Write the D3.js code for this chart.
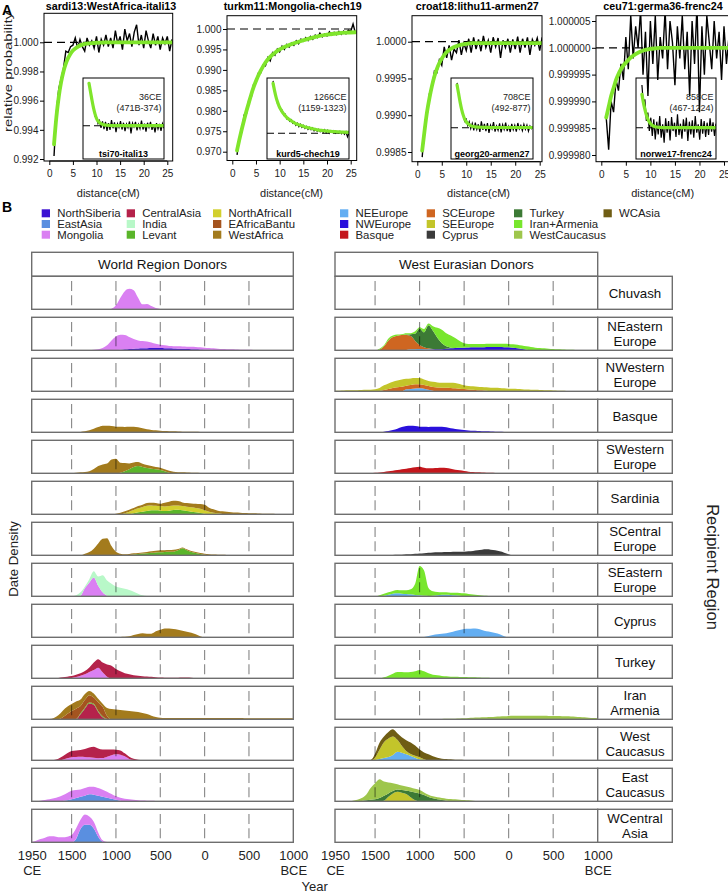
<!DOCTYPE html>
<html><head><meta charset="utf-8">
<script src="https://cdn.jsdelivr.net/npm/d3@7"></script>
<style>
html,body{margin:0;padding:0;background:#fff;}
svg{display:block;font-family:"Liberation Sans",Arial,Helvetica,sans-serif;}
</style></head><body>
<svg id="chart" width="728" height="893"></svg>
<script>
// ================= PANEL A DATA =================
const distCM = [1,1.5,2,2.5,3,3.5,4,4.5,5,5.5,6,6.5,7,7.5,8,8.5,9,9.5,10,10.5,11,11.5,12,12.5,13,13.5,14,14.5,15,15.5,16,16.5,17,17.5,18,18.5,19,19.5,20,20.5,21,21.5,22,22.5,23,23.5,24,24.5,25,25.5,26];
const fitCM = [1,1.5,2,2.5,3,3.5,4,4.5,5,6,7,8,9,10,11,12,13,14,16,18,20,22,24,26];

const obs1 = [0.9922,0.9952,0.9968,0.9975,0.9982,0.9994,0.9993,0.9997,0.9998,1.0003,0.9996,1.0002,0.9997,0.9994,1.0003,0.9998,1.0001,0.9996,1.0004,0.9993,1.0002,0.9998,1.0005,0.9997,1.0003,0.9996,1.0008,0.9999,1.0004,0.9995,1.0009,1.0001,1.0006,0.9997,1.0007,1.0012,0.9998,1.0005,0.9996,1.0008,1.0001,0.9996,1.0006,0.9998,1.0004,0.9995,1.0003,0.9999,1.0004,0.9994,1.0002];
const obs2 = [0.9692,0.9733,0.9748,0.9790,0.9793,0.9827,0.9832,0.9865,0.9868,0.9892,0.9893,0.9912,0.9910,0.9930,0.9922,0.9942,0.9936,0.9951,0.9944,0.9958,0.9950,0.9962,0.9956,0.9966,0.9960,0.9971,0.9964,0.9975,0.9970,0.9979,0.9972,0.9982,0.9975,0.9985,0.9979,0.9990,0.9981,0.9988,0.9983,0.9993,0.9985,0.9992,0.9986,0.9994,0.9987,0.9995,0.9988,0.9997,0.9994,1.0012,0.9990];
const obs3 = [0.99843,0.99885,0.99900,0.99930,0.99938,0.99960,0.99958,0.99975,0.99968,0.99993,0.99978,0.99995,0.99975,0.99990,0.99985,1.00002,0.99982,0.99998,0.99988,1.00004,0.99985,1.00006,0.99990,1.00003,0.99987,1.00008,0.99992,1.00002,0.99985,1.00006,0.99993,1.00005,0.99978,1.00002,0.99992,1.00004,0.99985,1.00003,0.99990,1.00007,0.99985,1.00004,0.99992,1.00006,0.99982,1.00003,0.99995,1.00005,0.99988,1.00006,0.99995];
const obs4 = [0.999987,0.999981,0.999990,0.999988,0.999994,0.999992,0.999997,0.999994,1.000002,0.999996,1.000006,0.999998,1.000004,1.000000,1.000007,0.999995,1.000003,0.999991,1.000005,0.999997,1.000006,0.999994,1.000002,0.999998,1.000007,0.999996,1.000005,1.000001,0.999993,1.000004,0.999998,1.000006,0.999996,1.000003,0.999991,1.000005,0.999997,1.000008,0.999988,1.000004,0.999995,1.000006,1.000001,0.999996,1.000005,0.999998,1.000003,0.999994,1.000004,0.999997,1.000002];

const fit1 = [0.99300,0.99488,0.99625,0.99726,0.99800,0.99854,0.99893,0.99922,0.99943,0.99969,0.99984,0.99991,0.99995,0.99997,0.99998,0.99999,1,1,1,1,1,1,1,1];
const fit2 = [0.9703,0.9730,0.9755,0.9778,0.9800,0.9820,0.9840,0.9858,0.9873,0.9898,0.9918,0.9932,0.9942,0.9950,0.9956,0.9961,0.9965,0.9969,0.9976,0.9982,0.9986,0.9989,0.9991,0.9992];
const fit3 = [0.99852,0.99880,0.99905,0.99924,0.99940,0.99953,0.99963,0.99971,0.99977,0.99986,0.99991,0.99994,0.99996,0.99997,0.99998,0.99998,0.99998,0.99998,0.99998,0.99998,0.99998,0.99998,0.99998,0.99998];
const fit4 = [0.999987,0.999989,0.999991,0.9999925,0.999994,0.9999951,0.999996,0.9999967,0.9999972,0.9999982,0.9999988,0.9999993,0.9999996,0.9999998,0.9999999,1,1,1,1,1,1,1,1,1];

const inObs1 = [1.02,0.78,0.55,0.45,0.22,0.20,0.05,0.12,-0.05,0.10,-0.08,0.09,-0.12,0.06,-0.10,0.13,-0.06,0.08,-0.15,0.05,-0.04,0.11,-0.09,0.07,-0.13,0.04,-0.05,0.10,-0.18,0.06,-0.03,0.09,-0.11,0.03,-0.07,0.12,-0.09,0.05,-0.14,0.07,-0.04,0.09,-0.10,0.03,-0.16,0.06,-0.08,0.04,-0.12,0.05,-0.06];
const inObs2 = [1.05,0.82,0.75,0.58,0.57,0.45,0.46,0.36,0.38,0.29,0.31,0.24,0.27,0.20,0.23,0.16,0.20,0.13,0.18,0.12,0.16,0.10,0.14,0.08,0.12,0.07,0.11,0.05,0.09,0.04,0.08,0.03,0.07,0.02,0.07,0.01,0.06,0.00,0.05,0.02,0.05,0.00,0.04,0.01,0.04,-0.01,0.03,-0.02,0.03,-0.07,0.01];
const inObs3 = [1.05,0.78,0.62,0.40,0.33,0.15,0.20,0.05,0.14,-0.02,0.10,-0.06,0.12,-0.04,0.08,-0.10,0.15,-0.05,0.09,-0.08,0.11,-0.12,0.06,-0.03,0.13,-0.09,0.04,-0.06,0.10,-0.11,0.07,-0.04,0.12,-0.08,0.03,-0.10,0.09,-0.05,0.06,-0.09,0.11,-0.03,0.05,-0.07,0.08,-0.04,0.06,-0.08,0.04,-0.02,0.03];
const inObs4 = [1.28,0.70,0.85,0.20,0.45,-0.10,0.30,-0.25,0.25,-0.35,0.18,-0.20,0.35,-0.30,0.10,-0.45,0.28,-0.15,0.20,-0.38,0.32,-0.10,0.15,-0.28,0.40,-0.22,0.12,-0.33,0.25,-0.12,0.30,-0.40,0.18,-0.20,0.22,-0.30,0.35,-0.15,0.10,-0.36,0.26,-0.18,0.20,-0.28,0.15,-0.22,0.28,-0.12,0.16,-0.25,0.12];

const inFit1 = [1,0.80,0.60,0.42,0.28,0.17,0.11,0.075,0.05,0.02,0.01,0.005,0,0,0,0,0,0,0,0,0,0,0,0];
const inFit2 = [1,0.85,0.72,0.62,0.54,0.48,0.43,0.39,0.35,0.29,0.25,0.21,0.18,0.16,0.14,0.12,0.105,0.09,0.065,0.05,0.038,0.03,0.023,0.02];
const inFit3 = [1,0.80,0.60,0.43,0.30,0.20,0.14,0.10,0.07,0.035,0.02,0.014,0.01,0.008,0.006,0.005,0.005,0.005,0.005,0.005,0.005,0.005,0.005,0.005];
const inFit4 = [1,0.75,0.55,0.38,0.26,0.17,0.11,0.07,0.045,0.02,0.01,0.005,0,0,0,0,0,0,0,0,0,0,0,0];

const titlesA = ["sardi13:WestAfrica-itali13","turkm11:Mongolia-chech19","croat18:lithu11-armen27","ceu71:germa36-frenc24"];
const insetPairs = ["tsi70-itali13","kurd5-chech19","georg20-armen27","norwe17-frenc24"];
const insetDates = ["36CE","1266CE","708CE","858CE"];
const insetCIs = ["(471B-374)","(1159-1323)","(492-877)","(467-1224)"];
const yTicks1 = [0.992,0.994,0.996,0.998,1.000];
const yTicks2 = [0.970,0.975,0.980,0.985,0.990,0.995,1.000];
const yTicks3 = [0.9985,0.9990,0.9995,1.0000];
const yTicks4 = [0.999980,0.999985,0.999990,0.999995,1.000000,1.000005];
const xTicksA = [0,5,10,15,20,25];

// ================= PANEL B DATA =================
const yearStep = 50;
const worldDonors = ["NorthSiberia","EastAsia","Mongolia","CentralAsia","India","Levant","NorthAfricaII","EAfricaBantu","WestAfrica"];
const worldColors = ["#3c12d2","#5a8fe0","#da80f2","#b5224b","#b8f8c8","#5ab52a","#d2d02e","#a4541f","#a37b1d"];
const westDonors = ["NEEurope","NWEurope","Basque","SCEurope","SEEurope","Cyprus","Turkey","Iran+Armenia","WestCaucasus","WCAsia"];
const westColors = ["#63aef2","#2a10dc","#c4161c","#cf6621","#c3c52a","#3b3b3b","#3c7a35","#78e62d","#9ec64c","#6f5d14"];
const recipients = [["Chuvash"],["NEastern","Europe"],["NWestern","Europe"],["Basque"],["SWestern","Europe"],["Sardinia"],["SCentral","Europe"],["SEastern","Europe"],["Cyprus"],["Turkey"],["Iran","Armenia"],["West","Caucasus"],["East","Caucasus"],["WCentral","Asia"]];
const yearTicks = [1950,1500,1000,500,0,-500,-1000];
const yearGuides = [1500,1000,500,0,-500];

// series: [donor, first year, density values every 50 years going back in time]
const wChuvash = [["Mongolia",1100,[0,.02,.12,.35,.55,.62,.58,.35,.15,.16,.10,.04,.01,0]]];
const wNEastern = [
 ["NorthSiberia",1050,[0,.01,.02,.03,.04,.05,.055,.06,.065,.07,.07,.07,.065,.06,.055,.05,.045,.04,.035,.03,.025,.02,.015,.01,.005,0]],
 ["Mongolia",1550,[0,.005,.006,.008,.01,.01,.02,.03,.07,.15,.30,.41,.45,.43,.36,.29,.245,.22,.205,.17,.13,.10,.085,.07,.07,.07,.07,.07,.07,.07,.065,.06,.055,.05,.045,.04,.035,.03,.025,.02,.018,.015,.012,.01,.01,.01,.01,.01,.008,.006,.004,.002]]];
const wNWestern = [];
const wBasque = [["WestAfrica",1450,[0,.01,.03,.06,.11,.16,.20,.20,.19,.17,.165,.16,.165,.17,.15,.12,.09,.07,.06,.05,.04,.035,.03,.025,.02,.02,.02,.015,.01,.01,0]]];
const wSWestern = [
 ["Levant",1000,[0,.02,.06,.12,.19,.22,.19,.16,.14,.12,.10,.06,.02,0]],
 ["WestAfrica",1500,[.01,.02,.03,.04,.06,.13,.22,.27,.30,.42,.44,.30,.25,.18,.14,.12,.10,.09,.08,.07,.07,.06,.06,.05,.035,.03,.025,.02,.015,.01,0]]];
const wSardinia = [
 ["Levant",850,[0,.03,.06,.08,.10,.12,.12,.11,.10,.11,.13,.14,.12,.10,.08,.06,.04,.02,0]],
 ["NorthAfricaII",950,[0,.03,.08,.10,.12,.14,.16,.15,.14,.14,.14,.14,.14,.13,.13,.13,.13,.13,.13,.10,.08,.05,.03,.01,0]],
 ["WestAfrica",1050,[0,.02,.05,.06,.06,.06,.07,.07,.08,.08,.08,.07,.11,.13,.14,.13,.11,.11,.12,.13,.14,.17,.12,.10,.08,.08,.075,.065,.055,.048,.04,.035,.03,.025,.02,.017,.013,.01,.007,.004,.002,0]]];
const wSCentral = [
 ["Levant",900,[0,.01,.025,.04,.055,.065,.075,.085,.09,.10,.105,.11,.15,.21,.15,.10,.07,.04,.015,0]],
 ["WestAfrica",1400,[0,.05,.10,.20,.36,.50,.52,.28,.11,.05,.03,.03,.035,.03,.03,.035,.045,.05,.06,.055,.055,.06,.04,.03,.03,.03,.03,.03,.035,.035,.025,.02,.015,.01,.005,0]]];
const wSEastern = [
 ["Mongolia",1450,[0,.02,.25,.42,.57,.32,.12,.02,0]],
 ["India",1500,[0,.03,.10,.05,.10,.19,.28,.52,.46,.38,.30,.26,.23,.19,.14,.08,.03,.01,0]]];
const wCyprus = [["WestAfrica",1050,[0,.005,.01,.015,.03,.07,.10,.12,.11,.11,.18,.23,.27,.27,.25,.23,.20,.17,.14,.09,.03,0]]];
const wTurkey = [
 ["Mongolia",1550,[0,.01,.04,.08,.12,.19,.25,.32,.18,.05,0]],
 ["CentralAsia",1700,[0,.01,.03,.05,.06,.07,.07,.10,.14,.23,.26,.30,.37,.38,.28,.21,.15,.12,.09,.075,.065,.055,.045,.035,.025,.02,.015,.015,.02,.025,.025,.02,.01,0]]];
const wIranArmenia = [
 ["CentralAsia",1450,[0,.15,.33,.48,.44,.22,.06,0]],
 ["Levant",1450,[.005,.03,.03,.03,.03,.03,.03,.01,0]],
 ["EAfricaBantu",1650,[0,.06,.16,.25,.315,.22,.23,.22,.19,.27,.29,.09,0]],
 ["WestAfrica",1800,[0,.01,.04,.12,.20,.22,.21,.22,.20,.18,.13,.12,.10,.09,.24,.31,.30,.285,.27,.25,.24,.22,.19,.16,.11,.07,.05,.04,.04,.04,.04,.04,.04,.04,.04,.04,.04,.04,.04,.04,.04,.04,.04,.04,.04,.035,.035,.035,.035,.03,.03,.03,.03,.03,.03,.03,.03]]];
const wWestCaucasus = [
 ["Mongolia",1650,[0,.02,.06,.09,.10,.11,.10,.09,.08,.065,.07,.11,.15,.18,.17,.12,.04,.01,0]],
 ["CentralAsia",1750,[0,.01,.05,.10,.15,.19,.20,.20,.24,.30,.33,.295,.26,.22,.18,.14,.13,.09,.07,.04,.02,.005,0]]];
const wEastCaucasus = [
 ["EastAsia",1650,[0,.01,.03,.06,.10,.14,.17,.21,.20,.17,.14,.11,.08,.05,.02,0]],
 ["Mongolia",1950,[.005,.01,.02,.04,.06,.09,.13,.17,.22,.26,.24,.22,.23,.23,.24,.23,.21,.18,.14,.10,.09,.08,.06,.045,.035,.025,.02,.015,.01,.005,0]]];
const wWCentral = [
 ["EastAsia",1500,[0,.10,.40,.53,.53,.42,.17,.02,0]],
 ["Mongolia",1950,[.01,.05,.10,.14,.18,.18,.15,.15,.17,.22,.32,.28,.31,.25,.20,.13,.04,.01,.005,.005,.005,.005,.006,.008,.008,.008,.008,.008,.008,.008,.008,.008,.008,.008,.008,.008,.008,.008,.008,.008,.005,.005,.003,.002,0]]];

const eChuvash = [];
const eNEastern = [
 ["NEEurope",1150,[.01,.03,.035,.04,.035,.03,.02,.01,0]],
 ["NWEurope",900,[0,.01,.02,.035,.05,.06,.07,.075,.08,.085,.09,.09,.09,.10,.10,.10,.10,.095,.09,.075,.06,.04,.02,.01,0]],
 ["SCEurope",1450,[.02,.12,.30,.40,.44,.46,.45,.40,.25,.12,.06,.03,.01,0]],
 ["Turkey",1200,[0,.02,.06,.22,.50,.45,.70,.55,.35,.18,.07,.02,0]],
 ["Iran+Armenia",1500,[0,.03,.03,.06,.05,.04,.03,.04,.03,.07,.04,.10,.05,.14,.30,.41,.40,.37,.30,.205,.13,.105,.10,.10,.10,.10,.10,.10,.10,.10,.10,.105,.11,.105,.10,.09,.08,.07,.06,.05,.04,.03,.025,.02,.015,.012,.01,.008,.005,.003,0]]];
const eNWestern = [
 ["NEEurope",1200,[0,.06,.07,.085,.09,.08,.05,.02,0]],
 ["SCEurope",1450,[.01,.04,.07,.10,.12,.14,.11,.12,.125,.12,.11,.11,.11,.115,.11,.105,.10,.09,.08,.07,.055,.045,.035,.03,.02,.01,0]],
 ["SEEurope",1950,[.02,.02,.025,.03,.03,.035,.04,.045,.05,.06,.09,.14,.17,.19,.21,.22,.21,.20,.19,.19,.17,.15,.16,.155,.15,.155,.16,.16,.14,.11,.105,.105,.105,.10,.10,.10,.105,.10,.09,.08,.075,.07,.065,.055,.05,.045,.04,.035,.03,.025,.02,.015,.01,.005,0]]];
const eBasque = [["NWEurope",1450,[0,.02,.04,.07,.11,.16,.19,.20,.19,.17,.165,.16,.165,.17,.17,.15,.12,.10,.085,.07,.055,.045,.04,.035,.03,.025,.02,.015,.01,.005,0]]];
const eSWestern = [["Basque",1550,[0,.015,.025,.04,.06,.08,.10,.125,.14,.16,.18,.20,.17,.15,.155,.16,.165,.16,.14,.11,.09,.07,.05,.04,.03,.025,.02,.015,.01,.005,0]]];
const eSardinia = [];
const eSCentral = [["Cyprus",1400,[0,.005,.01,.015,.02,.03,.035,.045,.055,.065,.075,.085,.09,.095,.10,.10,.105,.105,.11,.12,.13,.15,.17,.18,.17,.15,.12,.08,.03,0]]];
const eSEastern = [
 ["NEEurope",1450,[0,.02,.05,.08,.09,.08,.07,.06,.04,.03,.015,.01,.02,.035,.05,.05,.04,.03,.02,.01,0]],
 ["Iran+Armenia",1500,[0,.03,.06,.07,.08,.10,.10,.11,.15,.34,.89,.765,.24,.13,.095,.07,.07,.07,.08,.08,.08,.07,.055,.04,.025,.015,.005,0]]];
const eCyprus = [["NEEurope",1000,[0,.01,.04,.07,.09,.11,.12,.15,.19,.22,.25,.26,.27,.26,.22,.18,.16,.13,.09,.03,0]]];
const eTurkey = [["Iran+Armenia",1450,[0,.03,.08,.14,.19,.19,.18,.19,.21,.25,.21,.15,.11,.09,.07,.06,.05,.045,.04,.04,.035,.03,.025,.02,.015,.01,.01,.005,0]]];
const eIranArmenia = [["WestCaucasus",900,[0,.005,.01,.012,.015,.018,.02,.025,.03,.038,.045,.052,.06,.065,.07,.078,.085,.092,.10,.105,.11,.11,.11,.11,.11,.108,.105,.102,.10,.098,.095,.09,.085,.078,.07,.06,.05,.042,.035]]];
const eWestCaucasus = [
 ["NEEurope",1500,[.01,.04,.07,.10,.16,.26,.23,.18,.13,.08,.03,.01,0]],
 ["SEEurope",1550,[0,.07,.28,.48,.56,.56,.36,.21,.10,.06,.06,.06,.02,0]],
 ["WCAsia",1600,[0,.01,.12,.21,.17,.20,.22,.20,.26,.33,.35,.31,.24,.21,.18,.12,.08,.05,.04,.03,.02,.015,.01,.005,0]]];
const eEastCaucasus = [
 ["SEEurope",1450,[0,.02,.14,.24,.29,.26,.22,.12,.03,0]],
 ["Turkey",1650,[.01,.03,.05,.06,.10,.15,.10,.07,.07,.08,.10,.18,.24,.24,.19,.13,.09,.06,.04,.02,.01,0]],
 ["WestCaucasus",1800,[0,.02,.05,.09,.17,.35,.49,.57,.43,.33,.24,.16,.14,.13,.12,.11,.10,.08,.07,.06,.06,.06,.06,.06,.06,.05,.04,.03,.02,.01,0]]];
const eWCentral = [];

const worldRows = [wChuvash,wNEastern,wNWestern,wBasque,wSWestern,wSardinia,wSCentral,wSEastern,wCyprus,wTurkey,wIranArmenia,wWestCaucasus,wEastCaucasus,wWCentral];
const westRows = [eChuvash,eNEastern,eNWestern,eBasque,eSWestern,eSardinia,eSCentral,eSEastern,eCyprus,eTurkey,eIranArmenia,eWestCaucasus,eEastCaucasus,eWCentral];

// ================= DRAWING =================
const svg = d3.select("#chart");
const defs = svg.append("defs");
const GREEN = "#7fe52b";

// ---- Panel A ----
const layoutA = [
 {box:[44,172.7,13.3,161], x0:49.3, x25:167.3, yA:[1.000,42.3], yB:[0.992,159], inset:[83,164,78,159], inBase:125.7, inUnit:42.4, tx:111, lx:108},
 {box:[227,356.7,15.7,160.5], x0:232.3, x25:350.7, yA:[1.000,29], yB:[0.970,151.7], inset:[267,349,78,159], inBase:133.3, inUnit:50, tx:292.7},
 {box:[412,542,15.7,161.7], x0:417.3, x25:539.7, yA:[1.0000,41.7], yB:[0.9985,152], inset:[451,533,78,159], inBase:127.7, inUnit:42.7, tx:477.3},
 {box:[596,731,15.7,161.7], x0:601.3, x25:724, yA:[1.000005,21], yB:[0.999980,155], inset:[636,716,78,159], inBase:127.7, inUnit:33.4, tx:663}
];
const plotsA = [
 {obs:obs1, fit:fit1, inObs:inObs1, inFit:inFit1, yTicks:yTicks1, dec:3},
 {obs:obs2, fit:fit2, inObs:inObs2, inFit:inFit2, yTicks:yTicks2, dec:3},
 {obs:obs3, fit:fit3, inObs:inObs3, inFit:inFit3, yTicks:yTicks3, dec:4},
 {obs:obs4, fit:fit4, inObs:inObs4, inFit:inFit4, yTicks:yTicks4, dec:6}
];

plotsA.forEach((p, i) => {
  const L = layoutA[i];
  const [bl, br, bt, bb] = L.box;
  const x = d3.scaleLinear().domain([0, 25]).range([L.x0, L.x25]);
  const y = d3.scaleLinear().domain([L.yB[0], L.yA[0]]).range([L.yB[1], L.yA[1]]);
  const g = svg.append("g");
  const cid = "clipA" + i;
  defs.append("clipPath").attr("id", cid).append("rect")
    .attr("x", bl).attr("y", bt).attr("width", br - bl).attr("height", bb - bt);
  const gc = g.append("g").attr("clip-path", `url(#${cid})`);
  gc.append("line").attr("x1", bl).attr("x2", br).attr("y1", y(1)).attr("y2", y(1))
    .attr("stroke", "#000").attr("stroke-width", 1.2).attr("stroke-dasharray", "8,5");
  gc.append("path").datum(distCM.map((d, j) => [d, p.obs[j]]))
    .attr("d", d3.line().x(d => x(d[0])).y(d => y(d[1])))
    .attr("fill", "none").attr("stroke", "#000").attr("stroke-width", 1.4);
  gc.append("path").datum(fitCM.map((d, j) => [d, p.fit[j]]))
    .attr("d", d3.line().x(d => x(d[0])).y(d => y(d[1])).curve(d3.curveMonotoneX))
    .attr("fill", "none").attr("stroke", GREEN).attr("stroke-width", 3.8).attr("stroke-linecap", "round");

  // inset
  const [il, ir, it, ib] = L.inset;
  const ix = d3.scaleLinear().domain([-1, 26]).range([il, ir]);
  const iy = d3.scaleLinear().domain([0, 1]).range([L.inBase, L.inBase - L.inUnit]);
  const icid = "clipI" + i;
  defs.append("clipPath").attr("id", icid).append("rect")
    .attr("x", il).attr("y", it).attr("width", ir - il).attr("height", ib - it);
  const gi = g.append("g").attr("clip-path", `url(#${icid})`);
  gi.append("line").attr("x1", il).attr("x2", ir).attr("y1", iy(0)).attr("y2", iy(0))
    .attr("stroke", "#000").attr("stroke-width", 1.1).attr("stroke-dasharray", "7,4");
  gi.append("path").datum(distCM.map((d, j) => [d, p.inObs[j]]))
    .attr("d", d3.line().x(d => ix(d[0])).y(d => iy(d[1])))
    .attr("fill", "none").attr("stroke", "#000").attr("stroke-width", 1.2);
  gi.append("path").datum(fitCM.map((d, j) => [d, p.inFit[j]]))
    .attr("d", d3.line().x(d => ix(d[0])).y(d => iy(d[1])).curve(d3.curveMonotoneX))
    .attr("fill", "none").attr("stroke", GREEN).attr("stroke-width", 3.2).attr("stroke-linecap", "round");
  g.append("rect").attr("x", il).attr("y", it).attr("width", ir - il).attr("height", ib - it)
    .attr("fill", "none").attr("stroke", "#000").attr("stroke-width", 1);
  g.append("text").attr("x", ir - 2.5).attr("y", 100).attr("text-anchor", "end")
    .attr("font-size", 9).attr("fill", "#222").text(insetDates[i]);
  g.append("text").attr("x", ir - 2.5).attr("y", 111).attr("text-anchor", "end")
    .attr("font-size", 9).attr("fill", "#222").text(insetCIs[i]);
  g.append("text").attr("x", (il + ir) / 2).attr("y", 157).attr("text-anchor", "middle")
    .attr("font-size", 9).attr("font-weight", "bold").text(insetPairs[i]);

  // main box
  g.append("rect").attr("x", bl).attr("y", bt).attr("width", br - bl).attr("height", bb - bt)
    .attr("fill", "none").attr("stroke", "#000").attr("stroke-width", 1);

  // axes
  const ay = g.append("g").attr("transform", `translate(${bl},0)`)
    .call(d3.axisLeft(y).tickValues(p.yTicks).tickSize(4).tickPadding(1.5).tickFormat(v => v.toFixed(p.dec)));
  ay.select(".domain").remove();
  ay.selectAll("text").attr("font-size", 10).attr("font-family", null).attr("fill", "#222");
  const ax = g.append("g").attr("transform", `translate(0,${bb})`)
    .call(d3.axisBottom(x).tickValues(xTicksA).tickSize(4).tickPadding(5));
  ax.select(".domain").attr("d", `M${x(0)},0H${x(25)}`);
  ax.selectAll("text").attr("font-size", 10).attr("font-family", null).attr("fill", "#222");
  ay.attr("font-family", null); ax.attr("font-family", null);

  g.append("text").attr("x", L.tx).attr("y", 10).attr("text-anchor", "middle")
    .attr("font-size", 10.7).attr("font-weight", "bold").text(titlesA[i]);
  g.append("text").attr("x", x(12.5)).attr("y", 197).attr("text-anchor", "middle")
    .attr("font-size", 11).attr("fill", "#222").text("distance(cM)");
});
svg.append("text").attr("transform", "translate(12,72) rotate(-90)").attr("text-anchor", "middle")
  .attr("font-size", 11).attr("fill", "#222").attr("textLength", 120).attr("lengthAdjust", "spacingAndGlyphs")
  .text("relative probability");
svg.append("text").attr("x", 2).attr("y", 15).attr("font-size", 14).attr("font-weight", "bold").text("A");

// ---- Panel B ----
svg.append("text").attr("x", 2).attr("y", 212).attr("font-size", 14).attr("font-weight", "bold").text("B");

function drawLegend(names, colors, swX) {
  const rowY = [213.3, 224, 234.7];
  names.forEach((n, k) => {
    const c = Math.floor(k / 3), r = k % 3;
    svg.append("rect").attr("x", swX[c]).attr("y", rowY[r] - 4).attr("width", 8.3).attr("height", 8)
      .attr("fill", colors[k]);
    svg.append("text").attr("x", swX[c] + 15.5).attr("y", rowY[r] + 4).attr("font-size", 11.4)
      .attr("fill", "#222").text(n);
  });
}
drawLegend(worldDonors, worldColors, [41.7, 126.7, 213]);
drawLegend(westDonors, westColors, [340, 426.7, 514, 603.5]);

const rowsTop = 276.3, rowPitch = 41, panelH = 33;
const stripTop = 252.3;
const xL = d3.scaleLinear().domain([1950, -1000]).range([31.7, 293.3]);
const xR = d3.scaleLinear().domain([1950, -1000]).range([335, 597.7]);
const labelX1 = 672.3;
const gridYears = d3.range(1950, -1001, -yearStep);
const BORDER = "#6e6e6e";

function strip(xs, label) {
  const [a, b] = xs.range();
  svg.append("rect").attr("x", a).attr("y", stripTop).attr("width", b - a).attr("height", rowsTop - stripTop)
    .attr("fill", "#fff").attr("stroke", BORDER).attr("stroke-width", 1.4);
  svg.append("text").attr("x", (a + b) / 2).attr("y", (stripTop + rowsTop) / 2 + 4.8).attr("text-anchor", "middle")
    .attr("font-size", 13.5).attr("fill", "#111").text(label);
}
strip(xL, "World Region Donors");
strip(xR, "West Eurasian Donors");

function drawRow(xs, series, donors, colors, top, id) {
  const [a, b] = xs.range();
  const g = svg.append("g");
  g.append("rect").attr("x", a).attr("y", top).attr("width", b - a).attr("height", panelH).attr("fill", "#fff");
  defs.append("clipPath").attr("id", id).append("rect").attr("x", a).attr("y", top).attr("width", b - a).attr("height", panelH);
  const colorOf = {};
  donors.forEach((d, k) => colorOf[d] = colors[k]);
  const present = donors.filter(d => series.some(s => s[0] === d));
  if (present.length) {
    const table = gridYears.map(yr => {
      const o = {year: yr};
      present.forEach(d => o[d] = 0);
      series.forEach(([d, start, vals]) => {
        const k = Math.round((start - yr) / yearStep);
        if (k >= 0 && k < vals.length) o[d] = vals[k];
      });
      return o;
    });
    const stacked = d3.stack().keys(present)(table);
    const y = d3.scaleLinear().domain([0, 1]).range([top + panelH, top]);
    const area = d3.area().x(d => xs(d.data.year)).y0(d => y(d[0])).y1(d => y(d[1])).curve(d3.curveMonotoneX);
    g.append("g").attr("clip-path", `url(#${id})`).selectAll("path").data(stacked).join("path")
      .attr("d", area).attr("fill", s => colorOf[s.key]);
  }
  g.selectAll("line.guide").data(yearGuides).join("line").attr("class", "guide")
    .attr("x1", d => xs(d)).attr("x2", d => xs(d))
    .attr("y1", top + panelH - 4).attr("y2", top + 4.5)
    .attr("stroke", "#000").attr("stroke-opacity", 0.48).attr("stroke-width", 1.1).attr("stroke-dasharray", "10,4.3");
  g.append("rect").attr("x", a).attr("y", top).attr("width", b - a).attr("height", panelH)
    .attr("fill", "none").attr("stroke", BORDER).attr("stroke-width", 1.4);
}

recipients.forEach((rec, i) => {
  const top = rowsTop + rowPitch * i;
  drawRow(xL, worldRows[i], worldDonors, worldColors, top, "cw" + i);
  drawRow(xR, westRows[i], westDonors, westColors, top, "ce" + i);
  const a = xR.range()[1];
  svg.append("rect").attr("x", a).attr("y", top).attr("width", labelX1 - a).attr("height", panelH)
    .attr("fill", "#fff").attr("stroke", BORDER).attr("stroke-width", 1.4);
  const cx = (a + labelX1) / 2, cy = top + panelH / 2;
  rec.forEach((t, k) => {
    const off = rec.length === 1 ? 0 : (k === 0 ? -7.5 : 7.5);
    svg.append("text").attr("x", cx).attr("y", cy + off + 4.7).attr("text-anchor", "middle")
      .attr("font-size", 13.3).attr("fill", "#111").text(t);
  });
});

const bottomB = rowsTop + rowPitch * 13 + panelH;
[xL, xR].forEach(xs => {
  const ax = svg.append("g").attr("transform", `translate(0,${bottomB})`)
    .call(d3.axisBottom(xs).tickValues(yearTicks).tickSize(0).tickPadding(8).tickFormat(d => Math.abs(d)));
  ax.select(".domain").remove();
  ax.attr("font-family", null);
  ax.selectAll("text").attr("font-size", 13).attr("fill", "#222");
  ax.selectAll(".tick").filter(d => d === 1950 || d === -1000).append("text")
    .attr("y", 8 + 15).attr("dy", "0.71em").attr("text-anchor", "middle").attr("font-size", 13).attr("fill", "#222")
    .text(d => d === 1950 ? "CE" : "BCE");
});

svg.append("text").attr("x", 314.7).attr("y", 891).attr("text-anchor", "middle").attr("font-size", 13).attr("fill", "#222").text("Year");
svg.append("text").attr("transform", "translate(18,559) rotate(-90)").attr("text-anchor", "middle")
  .attr("font-size", 13.2).attr("fill", "#222").text("Date Density");
svg.append("text").attr("transform", "translate(706.5,567) rotate(90)").attr("text-anchor", "middle")
  .attr("font-size", 16.5).attr("fill", "#222").text("Recipient Region");
</script></body></html>
